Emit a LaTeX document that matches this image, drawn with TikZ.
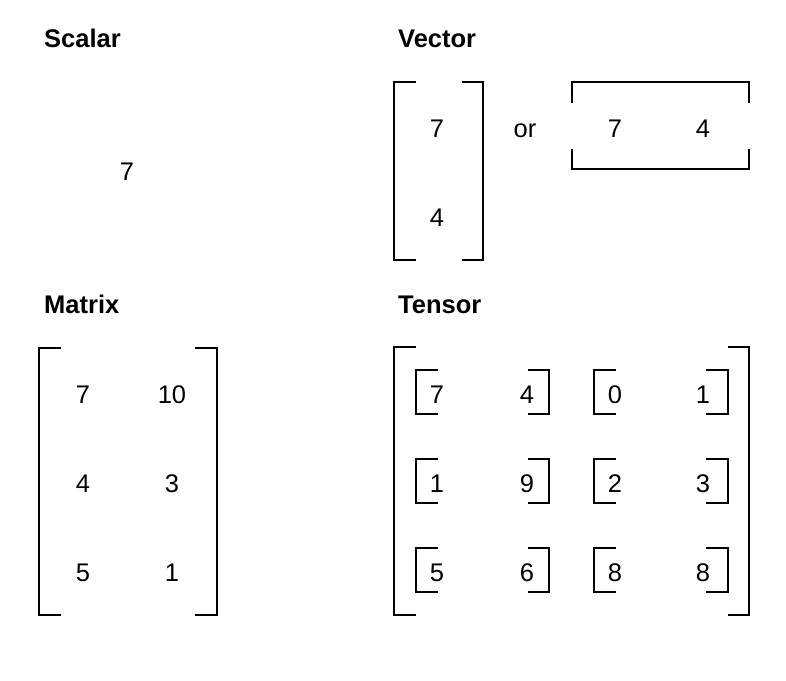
\documentclass[tikz,border=0pt]{standalone}
\usepackage{fontspec}
\setmainfont{Liberation Sans}
\begin{document}
\begin{tikzpicture}[x=1pt,y=-1pt,
  num/.style={inner sep=0pt,anchor=base,font=\fontsize{25.5}{30}\selectfont},
  ttl/.style={inner sep=0pt,anchor=base west,font=\fontsize{25.5}{30}\selectfont\bfseries},
  brk/.style={line width=2pt,line join=miter}]
\useasboundingbox (0,0) rectangle (786,680);
% titles
\node[ttl] (tscalar) at (44,47) {Scalar};
\node[ttl] (tvector) at (398,47) {Vector};
\node[ttl] (tmatrix) at (44,313) {Matrix};
\node[ttl] (ttensor) at (398,313) {Tensor};
% scalar
\node[num] (s7) at (127,180) {7};
% column vector
\draw[brk] (416,82) -- (394,82) -- (394,260) -- (416,260);
\draw[brk] (462,82) -- (483,82) -- (483,260) -- (462,260);
\node[num] (v7) at (437,137) {7};
\node[num] (v4) at (437,226) {4};
\node[num] (or) at (525,137) {or};
% row vector
\draw[brk] (572,103) -- (572,82) -- (749,82) -- (749,103);
\draw[brk] (572,149) -- (572,169) -- (749,169) -- (749,149);
\node[num] (r7) at (615,137) {7};
\node[num] (r4) at (703,137) {4};
% matrix
\draw[brk] (61,348) -- (39,348) -- (39,615) -- (61,615);
\draw[brk] (195,348) -- (217,348) -- (217,615) -- (195,615);
\node[num] (m11) at (83,403) {7};
\node[num] (m12) at (172,403) {10};
\node[num] (m21) at (83,492) {4};
\node[num] (m22) at (172,492) {3};
\node[num] (m31) at (83,581) {5};
\node[num] (m32) at (172,581) {1};
% tensor outer
\draw[brk] (416,347) -- (394,347) -- (394,615) -- (416,615);
\draw[brk] (728,347) -- (749,347) -- (749,615) -- (728,615);
% inner brackets
\foreach \t/\b in {370/414,459/503,548/592}{
  \draw[brk] (438,\t) -- (416,\t) -- (416,\b) -- (438,\b);
  \draw[brk] (528,\t) -- (549,\t) -- (549,\b) -- (528,\b);
  \draw[brk] (616,\t) -- (594,\t) -- (594,\b) -- (616,\b);
  \draw[brk] (706,\t) -- (728,\t) -- (728,\b) -- (706,\b);
}
\node[num] (t11) at (437,403) {7};
\node[num] (t12) at (527,403) {4};
\node[num] (t13) at (615,403) {0};
\node[num] (t14) at (703,403) {1};
\node[num] (t21) at (437,492) {1};
\node[num] (t22) at (527,492) {9};
\node[num] (t23) at (615,492) {2};
\node[num] (t24) at (703,492) {3};
\node[num] (t31) at (437,581) {5};
\node[num] (t32) at (527,581) {6};
\node[num] (t33) at (615,581) {8};
\node[num] (t34) at (703,581) {8};
\end{tikzpicture}
\end{document}
